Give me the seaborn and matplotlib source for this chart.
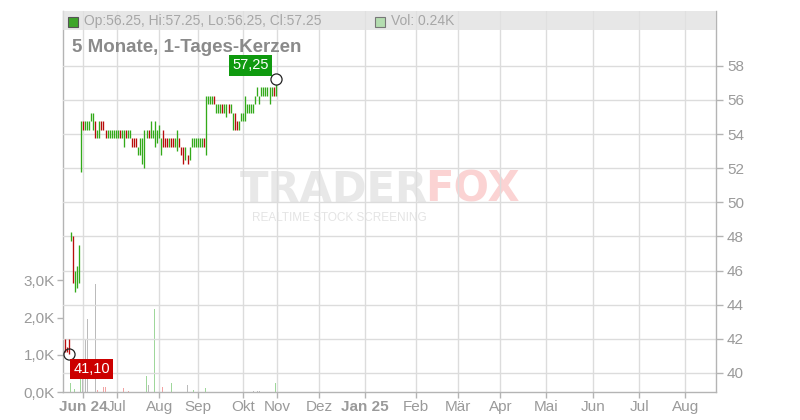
import numpy as np
import pandas as pd
import matplotlib
matplotlib.use("Agg")
import matplotlib.pyplot as plt
from matplotlib.patches import Rectangle
import seaborn as sns

# Daily candles, oldest first (EUR)
opens = [
    42.00, 41.50, 42.00, 47.75, 48.00, 44.75, 45.00, 45.25,
    51.75, 54.75, 54.25, 54.25, 54.25, 54.75, 54.25, 54.75,
    53.75, 53.75, 54.75, 54.75, 54.25, 53.75, 53.75, 53.75,
    53.75, 53.75, 53.75, 54.25, 53.75, 53.75, 54.25, 53.75,
    53.75, 53.75, 53.75, 53.75, 52.75, 53.25, 53.25, 53.75,
    53.75, 54.25, 53.75, 53.75, 53.25, 53.50, 53.75, 52.75,
    54.25, 53.75, 53.75, 53.25, 53.75, 53.75, 53.25, 53.75,
    53.75, 53.25, 53.25, 52.75, 52.75, 52.75, 53.25, 53.25,
    53.25, 53.25, 53.25, 53.25, 53.75, 52.75, 55.75, 55.75,
    55.75, 56.25, 55.25, 55.25, 55.25, 55.75, 55.25, 55.25,
    55.75, 55.25, 54.25, 55.25, 54.75, 54.25, 54.75, 54.75,
    54.75, 55.25, 55.25, 55.25, 55.25, 55.75, 56.25, 55.75,
    56.25, 56.25, 56.25, 56.25, 55.75, 56.25, 56.75, 56.25,
]
highs = [
    42.00, 41.50, 42.00, 48.25, 48.00, 46.00, 46.25, 47.50,
    54.75, 54.75, 54.75, 54.75, 54.75, 55.25, 55.25, 54.75,
    54.25, 54.75, 54.75, 54.75, 54.25, 54.25, 54.25, 54.25,
    54.25, 54.25, 54.25, 54.25, 54.25, 54.25, 54.25, 54.25,
    54.25, 53.75, 53.75, 53.75, 53.25, 53.75, 53.75, 54.25,
    54.25, 54.25, 54.75, 54.25, 54.75, 54.25, 54.50, 53.75,
    54.25, 53.75, 53.75, 53.75, 53.75, 53.75, 53.75, 54.25,
    53.75, 53.25, 53.25, 53.25, 52.75, 53.25, 53.75, 53.75,
    53.75, 53.75, 53.75, 53.75, 53.75, 56.25, 56.25, 56.25,
    56.25, 56.25, 55.75, 55.75, 55.75, 55.75, 55.75, 55.75,
    55.75, 55.75, 55.25, 55.25, 54.75, 54.75, 55.25, 55.25,
    56.25, 55.75, 55.75, 55.75, 55.75, 56.25, 56.75, 56.25,
    56.75, 56.75, 56.75, 56.75, 56.75, 56.75, 56.75, 57.25,
]
lows = [
    41.25, 41.25, 41.10, 47.75, 45.25, 44.75, 45.00, 45.25,
    51.75, 54.25, 54.25, 54.25, 54.25, 54.75, 54.25, 53.75,
    53.75, 53.75, 54.25, 54.25, 53.75, 53.75, 53.75, 53.75,
    53.75, 53.75, 53.75, 53.75, 53.75, 53.25, 53.75, 53.75,
    53.75, 53.25, 53.25, 53.25, 52.75, 52.75, 52.25, 52.00,
    53.75, 53.75, 53.75, 53.75, 53.25, 53.50, 53.75, 52.75,
    53.25, 53.25, 53.25, 53.25, 53.25, 53.25, 53.25, 53.00,
    53.25, 52.75, 52.25, 52.50, 52.25, 52.50, 53.25, 53.25,
    53.25, 53.25, 53.25, 53.25, 53.25, 52.75, 55.75, 55.75,
    55.75, 55.75, 55.25, 55.25, 55.25, 55.25, 55.25, 55.00,
    55.25, 55.25, 54.25, 54.25, 54.25, 54.25, 54.75, 54.75,
    54.75, 55.25, 55.25, 55.25, 55.25, 55.75, 56.25, 55.75,
    56.25, 56.25, 56.25, 56.25, 55.75, 56.25, 56.25, 56.25,
]
closes = [
    41.25, 41.25, 41.25, 48.25, 45.25, 46.00, 46.25, 47.50,
    54.75, 54.25, 54.75, 54.75, 54.75, 55.25, 55.25, 53.75,
    54.25, 54.75, 54.25, 54.25, 53.75, 54.25, 54.25, 54.25,
    54.25, 54.25, 54.25, 53.75, 54.25, 54.25, 53.75, 54.25,
    54.25, 53.25, 53.25, 53.25, 53.25, 53.75, 53.75, 54.25,
    54.25, 53.75, 54.75, 54.25, 54.75, 54.25, 54.50, 53.75,
    53.25, 53.25, 53.25, 53.75, 53.25, 53.25, 53.75, 54.25,
    53.25, 52.75, 52.75, 53.25, 52.25, 53.25, 53.75, 53.75,
    53.75, 53.75, 53.75, 53.75, 53.25, 56.25, 56.25, 56.25,
    56.25, 55.75, 55.75, 55.75, 55.75, 55.25, 55.75, 55.75,
    55.25, 55.75, 55.25, 54.25, 54.25, 54.75, 55.25, 55.25,
    56.25, 55.75, 55.75, 55.75, 55.75, 56.25, 56.75, 56.25,
    56.75, 56.75, 56.75, 56.75, 56.75, 56.75, 56.25, 57.25,
]

# Volume (thousand shares) on the days that traded
vol_day = [3, 5, 8, 9, 10, 11, 15, 16, 19, 20, 29, 31,
           40, 41, 44, 48, 52, 60, 63, 69, 92, 94, 95, 103]
vol_k = [0.25, 0.07, 0.45, 0.50, 1.42, 1.96, 2.90, 0.05, 0.13, 0.13, 0.12, 0.04,
         0.42, 0.20, 2.22, 0.13, 0.24, 0.20, 0.06, 0.12, 0.03, 0.03, 0.03, 0.24]
vol_dir = ["up", "up", "up", "flat", "flat", "flat", "flat", "down", "down", "down", "down", "down",
           "up", "flat", "up", "down", "up", "flat", "up", "up", "flat", "flat", "flat", "up"]

month_labels = ["Jun 24", "Jul", "Aug", "Sep", "Okt", "Nov", "Dez", "Jan 25",
                "Feb", "Mär", "Apr", "Mai", "Jun", "Jul", "Aug"]
price_ticks = [40, 42, 44, 46, 48, 50, 52, 54, 56, 58]
vol_ticks = [0, 1000, 2000, 3000]

# layout (axis units = trading-day slots)
month_pos = [9.2, 25.5, 46.2, 65.0, 87.2, 103.8, 124.3, 146.7,
             171.5, 192.1, 212.6, 234.9, 258.0, 280.4, 302.8]
x_lim = (-0.75, 317.8)

UP = "#33aa1a"
DOWN = "#b80c0c"
GRID = "#dcdcdc"
SPINE = "#b4b4b4"
TXT = "#9a9a9a"

sns.set_theme(style="white")
plt.rcParams["font.family"] = ["Liberation Sans", "DejaVu Sans"]

W, H = 800, 420
fig = plt.figure(figsize=(8, 4.2), dpi=100)
fig.patch.set_facecolor("white")


def fx(px):
    return px / W


def fy(py):
    return 1 - py / H


ax_vol = fig.add_axes([fx(63), fy(392), fx(716) - fx(63), fy(11) - fy(392)])
ax_vol.set_facecolor("none")
ax = ax_vol.twinx()

# ---- volume bars
df_vol = pd.DataFrame({"day": vol_day, "vol": np.array(vol_k) * 1000, "dir": vol_dir})
sns.barplot(data=df_vol, x="day", y="vol", hue="dir", native_scale=True, dodge=False,
            palette={"up": "#9fd79b", "down": "#f2a3a3", "flat": "#bbbbbb"},
            width=0.5, errorbar=None, legend=False, saturation=1, linewidth=0, ax=ax_vol)
for p in ax_vol.patches:
    p.set_antialiased(False)
ax_vol.set_ylim(0, 381 / 37.2 * 1000)
ax_vol.set_yticks(vol_ticks)
ax_vol.set_yticklabels([f"{v / 1000:.1f}K".replace(".", ",") for v in vol_ticks])
ax_vol.set_xlabel("")
ax_vol.set_ylabel("")

# ---- candles (thin high-low bars)
df = pd.DataFrame({"o": opens, "h": highs, "l": lows, "c": closes})
df["x"] = np.arange(len(df))
colors = [UP if c > o else DOWN for o, c in zip(df["o"], df["c"])]
ax.vlines(df["x"], df["l"], df["h"], colors=colors, linewidth=0.95, zorder=3)

ax.set_ylim(40 - 19 / 17.07, 40 + 362 / 17.07)
ax.set_yticks(price_ticks)
ax.set_yticklabels([str(t) for t in price_ticks])
ax.grid(axis="y", color=GRID, linewidth=1)
ax_vol.grid(axis="x", color=GRID, linewidth=1)
ax.set_axisbelow(True)

ax_vol.set_xlim(*x_lim)
ax_vol.set_xticks(month_pos)
ax_vol.set_xticklabels(month_labels)
for lab in ax_vol.get_xticklabels():
    if any(ch.isdigit() for ch in lab.get_text()):
        lab.set_fontweight("bold")

for a in (ax_vol, ax):
    for s in a.spines.values():
        s.set_visible(False)
ax_vol.spines["left"].set_visible(True)
ax_vol.spines["bottom"].set_visible(True)
ax.spines["right"].set_visible(True)
for s in (ax_vol.spines["left"], ax_vol.spines["bottom"], ax.spines["right"]):
    s.set_color(SPINE)
    s.set_linewidth(1)

ax_vol.tick_params(axis="both", direction="out", length=4, width=1, color=SPINE,
                   labelcolor=TXT, labelsize=11, pad=2, left=True, bottom=True)
ax.tick_params(axis="y", direction="out", length=5, width=1, color=SPINE,
               labelcolor=TXT, labelsize=11, pad=3, right=True)

# ---- min / max markers
i_max = int(np.argmax(highs))
i_min = int(np.argmin(lows))
ax.plot(i_max, highs[i_max], "o", mfc="white", mec="#222222", ms=8, mew=0.9, zorder=5)
ax.plot(i_min, lows[i_min], "o", mfc="none", mec="#222222", ms=8, mew=0.9, zorder=5)
ax.annotate(f"{highs[i_max]:.2f}".replace(".", ","), xy=(i_max, highs[i_max]),
            xytext=(-18, 9.5), textcoords="offset points", ha="center", va="center",
            color="white", fontsize=10.5, zorder=6,
            bbox=dict(boxstyle="square,pad=0.22", fc="#0f9a0f", ec="none"))
ax.annotate(f"{lows[i_min]:.2f}".replace(".", ","), xy=(i_min, lows[i_min]),
            xytext=(16.5, -10.5), textcoords="offset points", ha="center", va="center",
            color="white", fontsize=10.5, zorder=6,
            bbox=dict(boxstyle="square,pad=0.22", fc="#cc0000", ec="none"))

# ---- watermark
fig.text(fx(240), fy(190), "TRADER", fontsize=30, fontweight="bold", color="#e8e8e8",
         family="DejaVu Sans", va="center", ha="left", zorder=-1)
fig.text(fx(425), fy(190), "FOX", fontsize=30, fontweight="bold", color="#fbd3d3",
         family="DejaVu Sans", va="center", ha="left", zorder=-1)
fig.text(fx(252), fy(218), "REALTIME STOCK SCREENING", fontsize=8.5, color="#e4e4e4",
         va="center", ha="left", zorder=-1)

# ---- header band and title
fig.patches.append(Rectangle((fx(63), fy(30)), fx(716) - fx(63), fy(11) - fy(30),
                             transform=fig.transFigure, facecolor="#e2e2e2", alpha=0.8,
                             edgecolor="none", zorder=1))
fig.patches.append(Rectangle((fx(68), fy(27)), fx(10), fy(0) - fy(10),
                             transform=fig.transFigure, facecolor="#3ea52a",
                             edgecolor="#555555", linewidth=0.8, zorder=2))
fig.text(fx(84), fy(21), f"Op:{opens[-1]:.2f}, Hi:{highs[-1]:.2f}, Lo:{lows[-1]:.2f}, Cl:{closes[-1]:.2f}",
         fontsize=10, color="#a6a6a6", va="center", ha="left", zorder=3)
fig.patches.append(Rectangle((fx(375), fy(27)), fx(10), fy(0) - fy(10),
                             transform=fig.transFigure, facecolor="#b4ddb0",
                             edgecolor="#777777", linewidth=0.8, zorder=2))
fig.text(fx(391), fy(21), f"Vol: {vol_k[-1]:.2f}K", fontsize=10, color="#a6a6a6",
         va="center", ha="left", zorder=3)
fig.text(fx(72), fy(47), "5 Monate, 1-Tages-Kerzen", fontsize=13.5, fontweight="bold",
         color="#8a8a8a", va="center", ha="left")

fig.savefig("out.png", dpi=100)
